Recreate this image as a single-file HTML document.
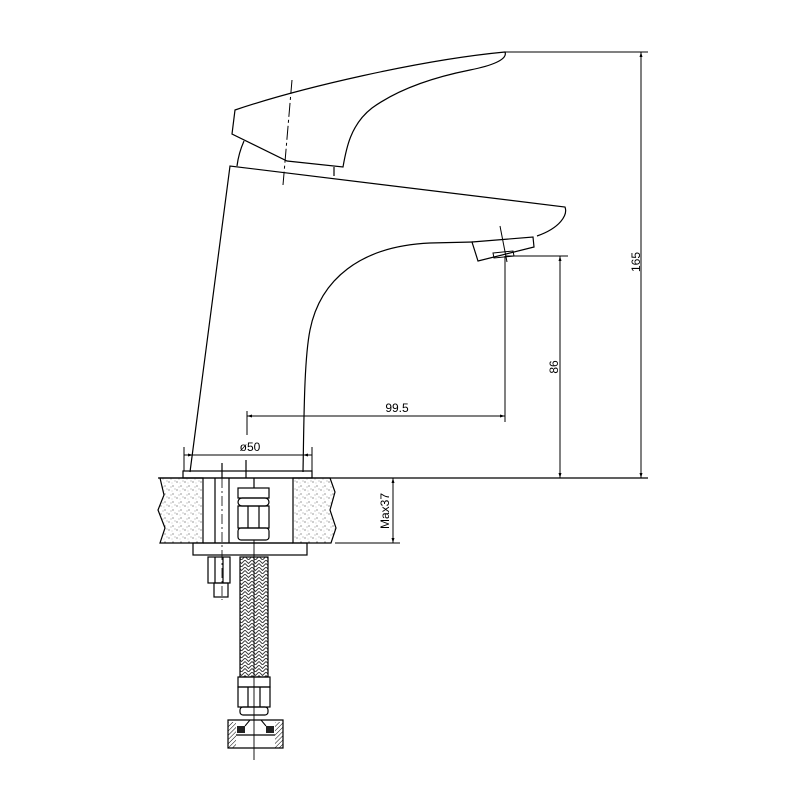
<!DOCTYPE html>
<html><head><style>html,body{margin:0;padding:0;background:#fff}svg{display:block}</style></head><body>
<svg width="800" height="800" viewBox="0 0 800 800" xmlns="http://www.w3.org/2000/svg" fill="none" stroke="#000" stroke-width="1.2" font-family="Liberation Sans, sans-serif">
<defs>
<pattern id="st" width="8" height="8" patternUnits="userSpaceOnUse">
<circle cx="1" cy="2" r="0.6" fill="#555" stroke="none"/><circle cx="5" cy="6" r="0.6" fill="#555" stroke="none"/><circle cx="7" cy="1" r="0.5" fill="#777" stroke="none"/><circle cx="3" cy="7" r="0.5" fill="#777" stroke="none"/><circle cx="4" cy="3" r="0.4" fill="#888" stroke="none"/></pattern>
<pattern id="br" width="7" height="7" patternUnits="userSpaceOnUse">
<path d="M0 0 L3.5 3.5 L7 0 M0 3.5 L3.5 7 L7 3.5" stroke="#333" stroke-width="0.9"/></pattern>
<pattern id="ht" width="3" height="3" patternUnits="userSpaceOnUse" patternTransform="rotate(45)"><line x1="0" y1="0" x2="0" y2="3" stroke="#000" stroke-width="1"/></pattern>
<marker id="a" viewBox="0 0 10 10" refX="10" refY="5" markerWidth="9" markerHeight="5" orient="auto-start-reverse"><path d="M0 2 L10 5 L0 8 Z" fill="#000" stroke="none"/></marker>
</defs>
<!-- lever -->
<path d="M235 110 C300 88 420 60 505 52 C508 60 490 66 470 70 C420 80 390 95 372 108 C350 125 346 150 343 167 L287 161 L232 134 Z"/>
<path d="M244 141 C240 150 238 158 237 166"/>
<line x1="334" y1="167" x2="334" y2="176"/>
<path d="M292 80 L283 185" stroke-dasharray="14 3 3 3" stroke-width="1"/>
<!-- body -->
<path d="M190 472 L230 166 L565 207 C568 215 560 228 537 236"/>
<path d="M473 242 L430 243 C360 246 320 280 310 330 C304 360 304 420 303 472"/>
<path d="M472 242 L533 237 L534 247 L478 261 Z"/>
<path d="M493 253 L513 251 L514 256 L494 258 Z" stroke-width="1"/>
<line x1="500" y1="226" x2="507" y2="262" stroke-width="1"/>
<!-- base plate -->
<rect x="183" y="471" width="129" height="7"/>
<line x1="222" y1="463" x2="222" y2="478"/><line x1="246" y1="460" x2="246" y2="478"/>
<!-- dimension lines -->
<line x1="505" y1="52" x2="648" y2="52" stroke-width="1"/>
<line x1="641" y1="52" x2="641" y2="478" stroke-width="1" marker-start="url(#a)" marker-end="url(#a)"/>
<line x1="506" y1="256" x2="568" y2="256" stroke-width="1"/>
<line x1="560" y1="256" x2="560" y2="478" stroke-width="1" marker-start="url(#a)" marker-end="url(#a)"/>
<line x1="505" y1="256" x2="505" y2="422" stroke-width="1"/>
<line x1="247" y1="411" x2="247" y2="435" stroke-width="1"/>
<line x1="247" y1="416" x2="505" y2="416" stroke-width="1" marker-start="url(#a)" marker-end="url(#a)"/>
<line x1="184" y1="447" x2="184" y2="471" stroke-width="1"/><line x1="312" y1="447" x2="312" y2="471" stroke-width="1"/>
<line x1="184" y1="455" x2="312" y2="455" stroke-width="1"/>
<line x1="184" y1="455" x2="193" y2="455" stroke-width="1" marker-end="url(#a)"/>
<line x1="312" y1="455" x2="303" y2="455" stroke-width="1" marker-end="url(#a)"/>
<line x1="158" y1="478" x2="648" y2="478"/>
<line x1="335" y1="543" x2="400" y2="543" stroke-width="1"/>
<line x1="393" y1="478" x2="393" y2="543" stroke-width="1" marker-start="url(#a)" marker-end="url(#a)"/>
<g fill="#000" stroke="none" font-size="12">
<text x="397" y="412" text-anchor="middle">99.5</text>
<text x="250" y="451" text-anchor="middle">ø50</text>
<text transform="translate(640,262) rotate(-90)" text-anchor="middle">165</text>
<text transform="translate(558,367) rotate(-90)" text-anchor="middle">86</text>
<text transform="translate(389,511) rotate(-90)" text-anchor="middle">Max37</text>
</g>
<!-- countertop -->
<path d="M160 478 L203 478 L203 543 L160 543 L165 528 L158 510 L164 495 Z" fill="url(#st)"/>
<path d="M293 478 L330 478 L335 492 L330 510 L336 528 L331 543 L293 543 Z" fill="url(#st)"/>
<line x1="203" y1="543" x2="293" y2="543"/>
<line x1="215" y1="478" x2="215" y2="543"/><line x1="229" y1="478" x2="229" y2="543"/>
<line x1="222" y1="478" x2="222" y2="600" stroke-dasharray="10 3 2 3" stroke-width="0.8"/>
<!-- nut in counter -->
<rect x="238" y="488" width="31" height="10"/>
<rect x="238" y="498" width="31" height="8" rx="4"/>
<rect x="238" y="506" width="31" height="22"/>
<line x1="248" y1="506" x2="248" y2="528"/><line x1="259" y1="506" x2="259" y2="528"/>
<rect x="238" y="528" width="31" height="12" rx="3"/>
<line x1="254" y1="478" x2="254" y2="488"/>
<!-- plate under -->
<rect x="193" y="543" width="114" height="12"/>
<!-- bolt -->
<rect x="208" y="557" width="22" height="26"/>
<line x1="215" y1="557" x2="215" y2="583"/><line x1="223" y1="557" x2="223" y2="583"/>
<rect x="214" y="583" width="14" height="14"/>
<!-- hose -->
<rect x="240" y="557" width="28" height="120" fill="url(#br)"/>
<line x1="254" y1="540" x2="254" y2="760" stroke-width="0.9"/>
<!-- lower fitting -->
<rect x="238" y="677" width="32" height="10"/>
<rect x="238" y="687" width="32" height="20"/>
<line x1="248" y1="687" x2="248" y2="707"/><line x1="260" y1="687" x2="260" y2="707"/>
<rect x="240" y="707" width="28" height="8" rx="3"/>
<path d="M228 720 L283 720 L283 748 L228 748 Z"/>
<rect x="228" y="722" width="8" height="26" fill="url(#ht)" stroke="none"/>
<rect x="275" y="722" width="8" height="26" fill="url(#ht)" stroke="none"/>
<rect x="237" y="726" width="8" height="7" fill="#222" stroke="none"/>
<rect x="266" y="726" width="8" height="7" fill="#222" stroke="none"/>
<path d="M245 726 L250 720 M266 726 L261 720" stroke-width="1"/>
<line x1="236" y1="735" x2="275" y2="735"/>
</svg>
</body></html>
